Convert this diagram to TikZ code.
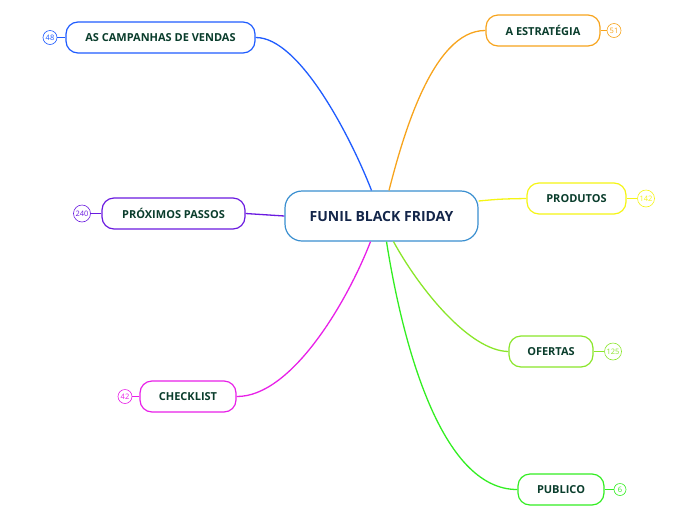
\documentclass[tikz,border=0pt]{standalone}
\usepackage{fontspec}
\setmainfont{Open Sans}
\usetikzlibrary{calc}
\definecolor{cblue}{HTML}{3A8FD0}
\definecolor{ctext}{HTML}{14264A}
\definecolor{ktext}{HTML}{0A3D2C}
\definecolor{bblue}{HTML}{1F5CFF}
\definecolor{borange}{HTML}{F7A41D}
\definecolor{byellow}{HTML}{F5F514}
\definecolor{bpurple}{HTML}{6A1AE0}
\definecolor{blime}{HTML}{8AE62A}
\definecolor{bmag}{HTML}{E820E8}
\definecolor{bgreen}{HTML}{33EE22}
\tikzset{
  x=1pt,y=-1pt,
  child/.style={draw=#1, line width=1.2pt, rounded corners=12pt, fill=white, minimum height=31pt, font=\bfseries\fontsize{11}{13}\selectfont, text=ktext, inner sep=0pt},
  cnt/.style={draw=#1, line width=0.6pt, circle, fill=white, inner sep=0pt, text=#1, font=\fontsize{7.5}{8}\selectfont},
  br/.style={draw=#1, line width=1.3pt},
  stub/.style={draw=#1, line width=1.2pt},
}
\begin{document}
\begin{tikzpicture}
\useasboundingbox (0,0) rectangle (696,520);
\node[draw=cblue, line width=1.2pt, rounded corners=17pt, fill=white, minimum width=193pt, minimum height=50pt, font=\bfseries\fontsize{14}{16}\selectfont, text=ctext, inner sep=0pt] (c) at (381.5,216) {FUNIL BLACK FRIDAY};
\node[child=borange, minimum width=114pt] (est) at (543,30.5) {A ESTRATÉGIA};
\node[child=bblue, minimum width=189pt] (camp) at (160.5,37.5) {AS CAMPANHAS DE VENDAS};
\node[child=byellow, minimum width=99pt] (prod) at (576.5,198.5) {PRODUTOS};
\node[child=bpurple, minimum width=143pt] (prox) at (173.5,213.5) {PRÓXIMOS PASSOS};
\node[child=blime, minimum width=84pt] (of) at (551,351.5) {OFERTAS};
\node[child=bmag, minimum width=96pt] (chk) at (188,396.5) {CHECKLIST};
\node[child=bgreen, minimum width=86pt] (pub) at (561,489.5) {PUBLICO};
\node[cnt=borange, minimum size=14pt] (n1) at (614,30.5) {51};
\node[cnt=bblue, minimum size=14pt] (n2) at (50,37.5) {48};
\node[cnt=byellow, minimum size=17pt] (n3) at (646,198.5) {142};
\node[cnt=bpurple, minimum size=17pt] (n4) at (82,213.5) {240};
\node[cnt=blime, minimum size=17pt] (n5) at (613,351.5) {125};
\node[cnt=bmag, minimum size=14pt] (n6) at (125,396.5) {42};
\node[cnt=bgreen, minimum size=12pt] (n7) at (620,489.5) {6};
\draw[br=bblue] (camp.east) .. controls (300,37) and (352,140) .. ($(c.north)+(-10,0)$);
\draw[br=borange] ($(c.north)+(7.5,0)$) .. controls (402,140) and (432,30) .. (est.west);
\draw[br=byellow] ($(c.east)+(0,-15)$) .. controls (500,199) .. (prod.west);
\draw[br=bpurple] (c.west) -- (prox.east);
\draw[br=bmag] ($(c.south)+(-11,0)$) .. controls (348,300) and (292,397) .. (chk.east);
\draw[br=blime] ($(c.south)+(12,0)$) .. controls (420,290) and (470,351) .. (of.west);
\draw[br=bgreen] ($(c.south)+(5,0)$) .. controls (402,340) and (440,490) .. (pub.west);
\draw[stub=borange] (est.east) -- (n1.west);
\draw[stub=bblue] (camp.west) -- (n2.east);
\draw[stub=byellow] (prod.east) -- (n3.west);
\draw[stub=bpurple] (prox.west) -- (n4.east);
\draw[stub=blime] (of.east) -- (n5.west);
\draw[stub=bmag] (chk.west) -- (n6.east);
\draw[stub=bgreen] (pub.east) -- (n7.west);
\end{tikzpicture}
\end{document}
